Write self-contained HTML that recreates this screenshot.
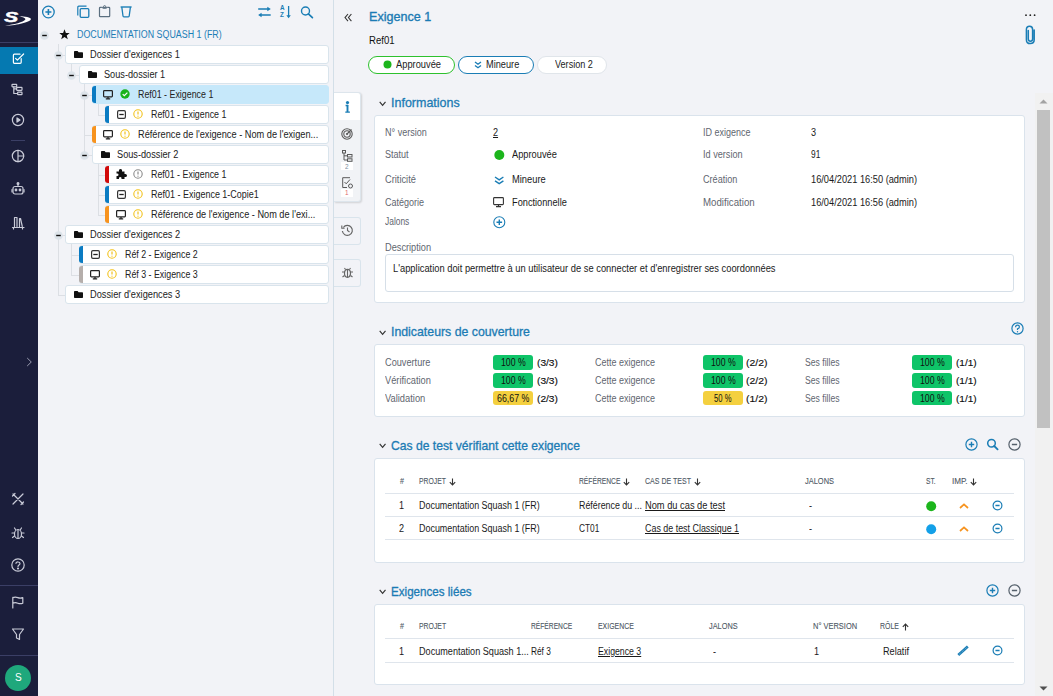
<!DOCTYPE html>
<html><head><meta charset="utf-8">
<style>
*{margin:0;padding:0;box-sizing:border-box}
html,body{width:1053px;height:696px;overflow:hidden;background:#f2f3f7;font-family:"Liberation Sans",sans-serif;color:#1a1a1a}
.a{position:absolute}
svg{position:absolute;overflow:visible}
.t{position:absolute;white-space:nowrap;line-height:14px;height:14px}
</style></head><body>

<div class="a" style="left:0;top:0;width:38px;height:696px;background:#1b1e3b"></div>
<div class="a" style="left:333px;top:0;width:1px;height:696px;background:#d3dfe8"></div>
<div class="a" style="left:0;top:42px;width:38px;height:1px;background:#3b3f66"></div>
<div class="a" style="left:0;top:47px;width:38px;height:27px;background:#0579b1"></div>
<div class="a" style="left:11px;top:140px;width:14px;height:1px;background:#3b3f66"></div>
<div class="a" style="left:0;top:585px;width:38px;height:1px;background:#3b3f66"></div>
<div class="a" style="left:0;top:655px;width:38px;height:1px;background:#3b3f66"></div>
<div class="a" style="left:5.3px;top:665.3px;width:26px;height:26px;border-radius:50%;background:#1fa87c;color:#fff;font-size:10px;line-height:26px;text-align:center">S</div>
<svg style="left:0px;top:0px;" width="38" height="40" viewBox="0 0 38 40"><text x="0" y="0" transform="translate(4.2 22.1) scale(1.45 1)" font-family="Liberation Sans" font-weight="bold" font-style="italic" font-size="14.4" fill="#fff" stroke="#fff" stroke-width="0.5">S</text><path d="M19 16.2 C25 16.3 31 17.3 31 19 C30.5 22 18 25.2 5 25.8 C14 24.6 23.5 22.2 25.3 19.6 C26.2 18.2 23 16.9 19 16.2 Z" fill="#fff"/></svg>
<svg style="left:10px;top:51px;" width="16" height="16" viewBox="0 0 16 16"><g fill="none" stroke="#ffffff" stroke-width="1.2" stroke-linecap="round" stroke-linejoin="round"><path d="M11.2 7.5 V11.3 Q11.2 12.3 10.2 12.3 H4.4 Q3.4 12.3 3.4 11.3 V4.2 Q3.4 3.2 4.4 3.2 H10" /><path d="M5.6 7.4 L7.4 9.2 L13.6 3"/></g></svg>
<svg style="left:10.2px;top:81px;" width="16" height="16" viewBox="0 0 16 16"><g fill="none" stroke="#c9cbd8" stroke-width="1.2" stroke-linecap="round" stroke-linejoin="round"><rect x="2" y="3.3" width="4.7" height="2.5" rx="0.5"/><rect x="6.6" y="6.3" width="5.4" height="3" rx="0.5"/><rect x="7.6" y="11.2" width="4.4" height="2.5" rx="0.5"/><path d="M3.8 5.8 V12.5 H7.6 M3.8 7.8 H6.6"/></g></svg>
<svg style="left:9.8px;top:112px;" width="16" height="16" viewBox="0 0 16 16"><g fill="none" stroke="#c9cbd8" stroke-width="1.2" stroke-linecap="round" stroke-linejoin="round"><circle cx="8" cy="8" r="5.6"/><path d="M7 5.9 L10 8 L7 10.1Z" fill="#c9cbd8"/></g></svg>
<svg style="left:10.2px;top:148px;" width="16" height="16" viewBox="0 0 16 16"><g fill="none" stroke="#c9cbd8" stroke-width="1.2" stroke-linecap="round" stroke-linejoin="round"><circle cx="8" cy="8" r="5.7"/><path d="M8 2.3 V13.7 M8 8 H13.7"/></g></svg>
<svg style="left:10.2px;top:181px;" width="16" height="16" viewBox="0 0 16 16"><g fill="none" stroke="#c9cbd8" stroke-width="1.2" stroke-linecap="round" stroke-linejoin="round"><rect x="3" y="5.5" width="10" height="7.5" rx="2"/><path d="M8 5.5 V3"/><circle cx="8" cy="2.5" r="0.9" fill="#c9cbd8"/><circle cx="6" cy="9" r="0.8" fill="#c9cbd8"/><circle cx="10" cy="9" r="0.8" fill="#c9cbd8"/><path d="M2 8.5 V11 M14 8.5 V11"/></g></svg>
<svg style="left:10.2px;top:214.5px;" width="16" height="16" viewBox="0 0 16 16"><g fill="none" stroke="#c9cbd8" stroke-width="1.2" stroke-linecap="round" stroke-linejoin="round"><path d="M4.5 2.5 V11.5 M7 2.5 V11.5 M4.5 2.5 H7 M9.5 3.5 V11.5 M9.5 3.5 H10.5 L12.3 11.5 M2.5 12.5 H14 M3.5 12.5 V14 M12.5 12.5 V14"/></g></svg>
<svg style="left:26.2px;top:356.5px;" width="8" height="11" viewBox="0 0 8 11"><path d="M1.2 1 L5.3 5 L1.2 9" fill="none" stroke="#9a9cb0" stroke-width="1"/></svg>
<svg style="left:10.2px;top:490.5px;" width="16" height="16" viewBox="0 0 16 16"><g fill="none" stroke="#c9cbd8" stroke-width="1.2" stroke-linecap="round" stroke-linejoin="round"><path d="M3 3 L13 13 M13 3 L3 13 M2.5 5 L5 2.5 M11 13.5 L13.5 11"/></g></svg>
<svg style="left:10.2px;top:524.5px;" width="16" height="16" viewBox="0 0 16 16"><g fill="none" stroke="#c9cbd8" stroke-width="1.2" stroke-linecap="round" stroke-linejoin="round"><ellipse cx="8" cy="9" rx="3.5" ry="4.5"/><path d="M5.5 4.5 L4.5 3 M10.5 4.5 L11.5 3 M4.5 8 H2 M11.5 8 H14 M4.5 11 L2.5 12.5 M11.5 11 L13.5 12.5 M8 5 V13"/></g></svg>
<svg style="left:10.2px;top:556.5px;" width="16" height="16" viewBox="0 0 16 16"><g fill="none" stroke="#c9cbd8" stroke-width="1.2" stroke-linecap="round" stroke-linejoin="round"><circle cx="8" cy="8" r="6.2"/><path d="M6 6.3 C6 4.5 10 4.5 10 6.5 C10 8 8 8 8 9.5"/><circle cx="8" cy="11.5" r="0.5" fill="#c9cbd8"/></g></svg>
<svg style="left:10.2px;top:593.5px;" width="16" height="16" viewBox="0 0 16 16"><g fill="none" stroke="#c9cbd8" stroke-width="1.2" stroke-linecap="round" stroke-linejoin="round"><path d="M2.8 14 V3.4 M2.8 3.6 Q5.3 2.6 7.8 3.6 Q10.3 4.6 12.8 3.6 V9.2 Q10.3 10.2 7.8 9.2 Q5.3 8.2 2.8 9.2"/></g></svg>
<svg style="left:10.2px;top:625.5px;" width="16" height="16" viewBox="0 0 16 16"><g fill="none" stroke="#c9cbd8" stroke-width="1.2" stroke-linecap="round" stroke-linejoin="round"><path d="M2.5 3 H13.5 L9.5 8.5 V13.5 L6.5 12 V8.5Z"/></g></svg>
<svg style="left:41px;top:5px;" width="15" height="15" viewBox="0 0 15 15"><circle cx="7.4" cy="7" r="5.8" fill="none" stroke="#1a7db5" stroke-width="1.3"/><path d="M7.4 4 V10 M4.4 7 H10.4" stroke="#1a7db5" stroke-width="1.6"/></svg>
<svg style="left:76px;top:5px;" width="15" height="14" viewBox="0 0 15 14"><path d="M1.8 10.5 V2.2 Q1.8 1.2 2.8 1.2 H10.5" fill="none" stroke="#1a7db5" stroke-width="1.2"/><rect x="4.2" y="3.7" width="8.6" height="8.6" rx="1" fill="none" stroke="#1a7db5" stroke-width="1.3"/></svg>
<svg style="left:98px;top:5px;" width="14" height="14" viewBox="0 0 14 14"><path d="M3.8 2.3 H2.3 Q1.5 2.3 1.5 3.1 V10.9 Q1.5 11.7 2.3 11.7 H10.9 Q11.7 11.7 11.7 10.9 V3.1 Q11.7 2.3 10.9 2.3 H9.4" fill="none" stroke="#5b6f80" stroke-width="1.2"/><path d="M3.8 2.3 H9.4 L8.4 3.3 H4.8Z" fill="#5b6f80" stroke="#5b6f80" stroke-width="0.8"/><circle cx="6.6" cy="1.7" r="1.1" fill="none" stroke="#5b6f80" stroke-width="1"/></svg>
<svg style="left:120px;top:5px;" width="13" height="14" viewBox="0 0 13 14"><path d="M0.6 2 H11.6" stroke="#1a7db5" stroke-width="1.4"/><path d="M1.8 2.2 L3 11 Q3.1 11.8 3.9 11.8 H8.3 Q9.1 11.8 9.2 11 L10.4 2.2" fill="none" stroke="#1a7db5" stroke-width="1.3" stroke-linejoin="round"/></svg>
<svg style="left:257px;top:5px;" width="16" height="14" viewBox="0 0 16 14"><path d="M1.2 4 H11 M3 10 H13.7" fill="none" stroke="#1a7db5" stroke-width="1.5"/><path d="M10.3 1.8 L13.8 4 L10.3 6.2Z M4.6 7.8 L1.1 10 L4.6 12.2Z" fill="#1a7db5"/></svg>
<svg style="left:278px;top:4px;" width="15" height="16" viewBox="0 0 15 16"><text x="2.1" y="6.2" font-family="Liberation Sans" font-weight="bold" font-size="6.3" fill="#1a7db5">A</text><text x="2.1" y="13" font-family="Liberation Sans" font-weight="bold" font-size="6.3" fill="#1a7db5">Z</text><path d="M10.6 2 V12" fill="none" stroke="#1a7db5" stroke-width="1.3"/><path d="M8.4 11.2 L10.6 14.3 L12.8 11.2Z" fill="#1a7db5"/></svg>
<svg style="left:299px;top:4px;" width="15" height="15" viewBox="0 0 15 15"><circle cx="6.5" cy="7" r="4" fill="none" stroke="#1a7db5" stroke-width="1.4"/><path d="M9.4 9.9 L13.4 13.6" stroke="#1a7db5" stroke-width="1.7" stroke-linecap="round"/></svg>
<div class="a" style="left:57.5px;top:44px;width:1px;height:251px;background:#dcdfe4"></div>
<div class="a" style="left:70.8px;top:64px;width:1px;height:11px;background:#dcdfe4"></div>
<div class="a" style="left:84.2px;top:84px;width:1px;height:71px;background:#dcdfe4"></div>
<div class="a" style="left:97.5px;top:104px;width:1px;height:11px;background:#dcdfe4"></div>
<div class="a" style="left:97.5px;top:164px;width:1px;height:51px;background:#dcdfe4"></div>
<div class="a" style="left:70.8px;top:244px;width:1px;height:31px;background:#dcdfe4"></div>
<div class="a" style="left:58px;top:54.5px;width:7px;height:1px;background:#dcdfe4"></div>
<div class="a" style="left:65px;top:45px;width:263.5px;height:19px;background:#ffffff;border:1px solid #d9e4ec;border-radius:3px"></div>
<svg style="left:73.5px;top:50.7px;" width="10" height="8" viewBox="0 0 10 8"><path d="M0 0.8 Q0 0 0.8 0 H3.6 L4.6 1.2 H8.3 Q9 1.2 9 1.9 V6.3 Q9 7 8.3 7 H0.7 Q0 7 0 6.3Z" fill="#111"/></svg>
<div class="t" style="left:90px;top:47.90px;font-size:10px;color:#222;font-weight:normal;transform:scaleX(0.9209);transform-origin:0 50%;">Dossier d'exigences 1</div>
<div class="a" style="left:71.3px;top:74.5px;width:7.700000000000003px;height:1px;background:#dcdfe4"></div>
<div class="a" style="left:79px;top:65px;width:249.5px;height:19px;background:#ffffff;border:1px solid #d9e4ec;border-radius:3px"></div>
<svg style="left:87.5px;top:70.7px;" width="10" height="8" viewBox="0 0 10 8"><path d="M0 0.8 Q0 0 0.8 0 H3.6 L4.6 1.2 H8.3 Q9 1.2 9 1.9 V6.3 Q9 7 8.3 7 H0.7 Q0 7 0 6.3Z" fill="#111"/></svg>
<div class="t" style="left:104px;top:67.90px;font-size:10px;color:#222;font-weight:normal;transform:scaleX(0.9176);transform-origin:0 50%;">Sous-dossier 1</div>
<div class="a" style="left:84.7px;top:94.5px;width:7.299999999999997px;height:1px;background:#dcdfe4"></div>
<div class="a" style="left:92px;top:85px;width:236.5px;height:19px;background:#c6e8fa;border:1px solid #c6e8fa;border-radius:3px"></div>
<div class="a" style="left:92px;top:86px;width:4px;height:17px;background:#0a7bc2;border-radius:3px 0 0 3px"></div>
<svg style="left:103px;top:89.8px;" width="10" height="10" viewBox="0 0 10 10"><rect x="0.6" y="0.6" width="8.8" height="6.3" rx="0.8" fill="none" stroke="#222" stroke-width="1.2"/><path d="M5 7 V8.6 M2.8 8.9 H7.2" stroke="#222" stroke-width="1.3"/></svg>
<svg style="left:120.4px;top:89.4px;" width="10" height="10" viewBox="0 0 10 10"><circle cx="5" cy="5" r="4.7" fill="#1ab31a"/><path d="M2.7 5.1 L4.3 6.7 L7.4 3.6" fill="none" stroke="#fff" stroke-width="1.2"/></svg>
<div class="t" style="left:138px;top:87.90px;font-size:10px;color:#222;font-weight:normal;transform:scaleX(0.8854);transform-origin:0 50%;">Ref01 - Exigence 1</div>
<div class="a" style="left:98px;top:114.5px;width:7px;height:1px;background:#dcdfe4"></div>
<div class="a" style="left:105px;top:105px;width:223.5px;height:19px;background:#ffffff;border:1px solid #d9e4ec;border-radius:3px"></div>
<div class="a" style="left:105px;top:106px;width:4px;height:17px;background:#0a7bc2;border-radius:3px 0 0 3px"></div>
<svg style="left:117px;top:109.8px;" width="9" height="9" viewBox="0 0 9 9"><rect x="0.6" y="0.6" width="7.8" height="7.8" rx="1.3" fill="none" stroke="#333" stroke-width="1.2"/><path d="M2.3 4.5 H6.7" stroke="#222" stroke-width="1.3"/></svg>
<svg style="left:133.4px;top:109.4px;" width="10" height="10" viewBox="0 0 10 10"><circle cx="5" cy="5" r="4.2" fill="none" stroke="#f2c21b" stroke-width="1.1"/><path d="M5 2.6 V5.6" stroke="#f2c21b" stroke-width="1.2"/><circle cx="5" cy="7.2" r="0.6" fill="#f2c21b"/></svg>
<div class="t" style="left:151px;top:107.90px;font-size:10px;color:#222;font-weight:normal;transform:scaleX(0.8866);transform-origin:0 50%;">Ref01 - Exigence 1</div>
<div class="a" style="left:84.7px;top:134.5px;width:7.299999999999997px;height:1px;background:#dcdfe4"></div>
<div class="a" style="left:92px;top:125px;width:236.5px;height:19px;background:#ffffff;border:1px solid #d9e4ec;border-radius:3px"></div>
<div class="a" style="left:92px;top:126px;width:4px;height:17px;background:#f7931e;border-radius:3px 0 0 3px"></div>
<svg style="left:103px;top:129.8px;" width="10" height="10" viewBox="0 0 10 10"><rect x="0.6" y="0.6" width="8.8" height="6.3" rx="0.8" fill="none" stroke="#222" stroke-width="1.2"/><path d="M5 7 V8.6 M2.8 8.9 H7.2" stroke="#222" stroke-width="1.3"/></svg>
<svg style="left:120.4px;top:129.4px;" width="10" height="10" viewBox="0 0 10 10"><circle cx="5" cy="5" r="4.2" fill="none" stroke="#f2c21b" stroke-width="1.1"/><path d="M5 2.6 V5.6" stroke="#f2c21b" stroke-width="1.2"/><circle cx="5" cy="7.2" r="0.6" fill="#f2c21b"/></svg>
<div class="t" style="left:138px;top:127.90px;font-size:10px;color:#222;font-weight:normal;transform:scaleX(0.9214);transform-origin:0 50%;">Référence de l'exigence - Nom de l'exigen...</div>
<div class="a" style="left:84.7px;top:154.5px;width:7.299999999999997px;height:1px;background:#dcdfe4"></div>
<div class="a" style="left:92px;top:145px;width:236.5px;height:19px;background:#ffffff;border:1px solid #d9e4ec;border-radius:3px"></div>
<svg style="left:100.5px;top:150.7px;" width="10" height="8" viewBox="0 0 10 8"><path d="M0 0.8 Q0 0 0.8 0 H3.6 L4.6 1.2 H8.3 Q9 1.2 9 1.9 V6.3 Q9 7 8.3 7 H0.7 Q0 7 0 6.3Z" fill="#111"/></svg>
<div class="t" style="left:117px;top:147.90px;font-size:10px;color:#222;font-weight:normal;transform:scaleX(0.9191);transform-origin:0 50%;">Sous-dossier 2</div>
<div class="a" style="left:98px;top:174.5px;width:7px;height:1px;background:#dcdfe4"></div>
<div class="a" style="left:105px;top:165px;width:223.5px;height:19px;background:#ffffff;border:1px solid #d9e4ec;border-radius:3px"></div>
<div class="a" style="left:105px;top:166px;width:4px;height:17px;background:#d10a0a;border-radius:3px 0 0 3px"></div>
<svg style="left:116px;top:169.4px;" width="11" height="10" viewBox="0 0 11 10"><path d="M0.5 2.5 H3 Q2.5 0 4.5 0 Q6.5 0 6 2.5 H8.5 V5 Q11 4.5 11 6.5 Q11 8.5 8.5 8 V10 H5.5 Q6 8 4.2 8 Q2.5 8 3 10 H0.5 V7 Q2.5 7.5 2.5 5.7 Q2.5 4 0.5 4.5Z" fill="#111"/></svg>
<svg style="left:133.4px;top:169.4px;" width="10" height="10" viewBox="0 0 10 10"><circle cx="5" cy="5" r="4.2" fill="none" stroke="#8a8a8a" stroke-width="1.1"/><path d="M5 2.6 V5.6" stroke="#8a8a8a" stroke-width="1.2"/><circle cx="5" cy="7.2" r="0.6" fill="#8a8a8a"/></svg>
<div class="t" style="left:151px;top:167.90px;font-size:10px;color:#222;font-weight:normal;transform:scaleX(0.8866);transform-origin:0 50%;">Ref01 - Exigence 1</div>
<div class="a" style="left:98px;top:194.5px;width:7px;height:1px;background:#dcdfe4"></div>
<div class="a" style="left:105px;top:185px;width:223.5px;height:19px;background:#ffffff;border:1px solid #d9e4ec;border-radius:3px"></div>
<div class="a" style="left:105px;top:186px;width:4px;height:17px;background:#0a7bc2;border-radius:3px 0 0 3px"></div>
<svg style="left:117px;top:189.8px;" width="9" height="9" viewBox="0 0 9 9"><rect x="0.6" y="0.6" width="7.8" height="7.8" rx="1.3" fill="none" stroke="#333" stroke-width="1.2"/><path d="M2.3 4.5 H6.7" stroke="#222" stroke-width="1.3"/></svg>
<svg style="left:133.4px;top:189.4px;" width="10" height="10" viewBox="0 0 10 10"><circle cx="5" cy="5" r="4.2" fill="none" stroke="#f2c21b" stroke-width="1.1"/><path d="M5 2.6 V5.6" stroke="#f2c21b" stroke-width="1.2"/><circle cx="5" cy="7.2" r="0.6" fill="#f2c21b"/></svg>
<div class="t" style="left:151px;top:187.90px;font-size:10px;color:#222;font-weight:normal;transform:scaleX(0.8979);transform-origin:0 50%;">Ref01 - Exigence 1-Copie1</div>
<div class="a" style="left:98px;top:214.5px;width:7px;height:1px;background:#dcdfe4"></div>
<div class="a" style="left:105px;top:205px;width:223.5px;height:19px;background:#ffffff;border:1px solid #d9e4ec;border-radius:3px"></div>
<div class="a" style="left:105px;top:206px;width:4px;height:17px;background:#f7931e;border-radius:3px 0 0 3px"></div>
<svg style="left:116px;top:209.8px;" width="10" height="10" viewBox="0 0 10 10"><rect x="0.6" y="0.6" width="8.8" height="6.3" rx="0.8" fill="none" stroke="#222" stroke-width="1.2"/><path d="M5 7 V8.6 M2.8 8.9 H7.2" stroke="#222" stroke-width="1.3"/></svg>
<svg style="left:133.4px;top:209.4px;" width="10" height="10" viewBox="0 0 10 10"><circle cx="5" cy="5" r="4.2" fill="none" stroke="#f2c21b" stroke-width="1.1"/><path d="M5 2.6 V5.6" stroke="#f2c21b" stroke-width="1.2"/><circle cx="5" cy="7.2" r="0.6" fill="#f2c21b"/></svg>
<div class="t" style="left:151px;top:207.90px;font-size:10px;color:#222;font-weight:normal;transform:scaleX(0.9184);transform-origin:0 50%;">Référence de l'exigence - Nom de l'exi...</div>
<div class="a" style="left:58px;top:234.5px;width:7px;height:1px;background:#dcdfe4"></div>
<div class="a" style="left:65px;top:225px;width:263.5px;height:19px;background:#ffffff;border:1px solid #d9e4ec;border-radius:3px"></div>
<svg style="left:73.5px;top:230.7px;" width="10" height="8" viewBox="0 0 10 8"><path d="M0 0.8 Q0 0 0.8 0 H3.6 L4.6 1.2 H8.3 Q9 1.2 9 1.9 V6.3 Q9 7 8.3 7 H0.7 Q0 7 0 6.3Z" fill="#111"/></svg>
<div class="t" style="left:90px;top:227.90px;font-size:10px;color:#222;font-weight:normal;transform:scaleX(0.9250);transform-origin:0 50%;">Dossier d'exigences 2</div>
<div class="a" style="left:71.3px;top:254.5px;width:7.700000000000003px;height:1px;background:#dcdfe4"></div>
<div class="a" style="left:79px;top:245px;width:249.5px;height:19px;background:#ffffff;border:1px solid #d9e4ec;border-radius:3px"></div>
<div class="a" style="left:79px;top:246px;width:4px;height:17px;background:#0a7bc2;border-radius:3px 0 0 3px"></div>
<svg style="left:91px;top:249.8px;" width="9" height="9" viewBox="0 0 9 9"><rect x="0.6" y="0.6" width="7.8" height="7.8" rx="1.3" fill="none" stroke="#333" stroke-width="1.2"/><path d="M2.3 4.5 H6.7" stroke="#222" stroke-width="1.3"/></svg>
<svg style="left:107.4px;top:249.4px;" width="10" height="10" viewBox="0 0 10 10"><circle cx="5" cy="5" r="4.2" fill="none" stroke="#f2c21b" stroke-width="1.1"/><path d="M5 2.6 V5.6" stroke="#f2c21b" stroke-width="1.2"/><circle cx="5" cy="7.2" r="0.6" fill="#f2c21b"/></svg>
<div class="t" style="left:125px;top:247.90px;font-size:10px;color:#222;font-weight:normal;transform:scaleX(0.8838);transform-origin:0 50%;">Réf 2 - Exigence 2</div>
<div class="a" style="left:71.3px;top:274.5px;width:7.700000000000003px;height:1px;background:#dcdfe4"></div>
<div class="a" style="left:79px;top:265px;width:249.5px;height:19px;background:#ffffff;border:1px solid #d9e4ec;border-radius:3px"></div>
<div class="a" style="left:79px;top:266px;width:4px;height:17px;background:#b5aeab;border-radius:3px 0 0 3px"></div>
<svg style="left:90px;top:269.8px;" width="10" height="10" viewBox="0 0 10 10"><rect x="0.6" y="0.6" width="8.8" height="6.3" rx="0.8" fill="none" stroke="#222" stroke-width="1.2"/><path d="M5 7 V8.6 M2.8 8.9 H7.2" stroke="#222" stroke-width="1.3"/></svg>
<svg style="left:107.4px;top:269.4px;" width="10" height="10" viewBox="0 0 10 10"><circle cx="5" cy="5" r="4.2" fill="none" stroke="#f2c21b" stroke-width="1.1"/><path d="M5 2.6 V5.6" stroke="#f2c21b" stroke-width="1.2"/><circle cx="5" cy="7.2" r="0.6" fill="#f2c21b"/></svg>
<div class="t" style="left:125px;top:267.90px;font-size:10px;color:#222;font-weight:normal;transform:scaleX(0.8838);transform-origin:0 50%;">Réf 3 - Exigence 3</div>
<div class="a" style="left:58px;top:294.5px;width:7px;height:1px;background:#dcdfe4"></div>
<div class="a" style="left:65px;top:285px;width:263.5px;height:19px;background:#ffffff;border:1px solid #d9e4ec;border-radius:3px"></div>
<svg style="left:73.5px;top:290.7px;" width="10" height="8" viewBox="0 0 10 8"><path d="M0 0.8 Q0 0 0.8 0 H3.6 L4.6 1.2 H8.3 Q9 1.2 9 1.9 V6.3 Q9 7 8.3 7 H0.7 Q0 7 0 6.3Z" fill="#111"/></svg>
<div class="t" style="left:90px;top:287.90px;font-size:10px;color:#222;font-weight:normal;transform:scaleX(0.9250);transform-origin:0 50%;">Dossier d'exigences 3</div>
<svg style="left:40.3px;top:30.5px;" width="9" height="9" viewBox="0 0 9 9"><circle cx="4.5" cy="4.5" r="4.3" fill="#dce3e9"/><path d="M2.2 4.5 H6.8" stroke="#111" stroke-width="1.4"/></svg>
<svg style="left:53.5px;top:50.5px;" width="9" height="9" viewBox="0 0 9 9"><circle cx="4.5" cy="4.5" r="4.3" fill="#dce3e9"/><path d="M2.2 4.5 H6.8" stroke="#111" stroke-width="1.4"/></svg>
<svg style="left:66.8px;top:70.5px;" width="9" height="9" viewBox="0 0 9 9"><circle cx="4.5" cy="4.5" r="4.3" fill="#dce3e9"/><path d="M2.2 4.5 H6.8" stroke="#111" stroke-width="1.4"/></svg>
<svg style="left:80.2px;top:90.5px;" width="9" height="9" viewBox="0 0 9 9"><circle cx="4.5" cy="4.5" r="4.3" fill="#dce3e9"/><path d="M2.2 4.5 H6.8" stroke="#111" stroke-width="1.4"/></svg>
<svg style="left:80.2px;top:150.5px;" width="9" height="9" viewBox="0 0 9 9"><circle cx="4.5" cy="4.5" r="4.3" fill="#dce3e9"/><path d="M2.2 4.5 H6.8" stroke="#111" stroke-width="1.4"/></svg>
<svg style="left:53.5px;top:230.5px;" width="9" height="9" viewBox="0 0 9 9"><circle cx="4.5" cy="4.5" r="4.3" fill="#dce3e9"/><path d="M2.2 4.5 H6.8" stroke="#111" stroke-width="1.4"/></svg>
<svg style="left:58.5px;top:29.2px;" width="11" height="11" viewBox="0 0 11 11"><path d="M5.5 0.3 L6.9 3.9 L10.7 4.1 L7.7 6.5 L8.8 10.3 L5.5 8.1 L2.2 10.3 L3.3 6.5 L0.3 4.1 L4.1 3.9Z" fill="#111"/></svg>
<div class="t" style="left:77px;top:28.00px;font-size:10px;color:#1c7db6;font-weight:normal;transform:scaleX(0.8879);transform-origin:0 50%;">DOCUMENTATION SQUASH 1 (FR)</div>
<svg style="left:343.5px;top:12.5px;" width="9" height="10" viewBox="0 0 9 10"><path d="M4 1 L1 4.6 L4 8.2 M7.4 1 L4.4 4.6 L7.4 8.2" fill="none" stroke="#333" stroke-width="1.05"/></svg>
<div class="t" style="left:369px;top:9.90px;font-size:12.7px;color:#1b7bb4;font-weight:normal;transform:scaleX(0.9915);transform-origin:0 50%;-webkit-text-stroke:0.35px #1b7bb4">Exigence 1</div>
<div class="t" style="left:369px;top:32.70px;font-size:10.5px;color:#111;font-weight:normal;transform:scaleX(0.9137);transform-origin:0 50%;">Ref01</div>
<div class="a" style="left:368px;top:56px;width:87px;height:18px;border:1.5px solid #2ec12e;border-radius:9px;background:#fff"></div>
<svg style="left:383px;top:59.8px;" width="9" height="9" viewBox="0 0 9 9"><circle cx="4.5" cy="4.5" r="4" fill="#1cb51c"/></svg>
<div class="t" style="left:395.7px;top:58.10px;font-size:10px;color:#222;font-weight:normal;transform:scaleX(0.9304);transform-origin:0 50%;">Approuvée</div>
<div class="a" style="left:458px;top:56px;width:76px;height:18px;border:1.5px solid #1a7db5;border-radius:9px;background:#fff"></div>
<svg style="left:473.5px;top:60.7px;" width="8" height="8" viewBox="0 0 8 8"><path d="M1 1 L4 3.2 L7 1 M1 4.5 L4 6.7 L7 4.5" fill="none" stroke="#1a7db5" stroke-width="1.4"/></svg>
<div class="t" style="left:485.7px;top:58.10px;font-size:10px;color:#222;font-weight:normal;transform:scaleX(0.9218);transform-origin:0 50%;">Mineure</div>
<div class="a" style="left:537px;top:56px;width:70px;height:18px;border:1.5px solid #e0e5ea;border-radius:9px;background:#fff"></div>
<div class="t" style="left:554.9px;top:58.10px;font-size:10px;color:#222;font-weight:normal;transform:scaleX(0.9090);transform-origin:0 50%;">Version 2</div>
<svg style="left:1024px;top:13px;" width="12" height="4" viewBox="0 0 12 4"><circle cx="2" cy="2.2" r="0.9" fill="#222"/><circle cx="6.3" cy="2.2" r="0.9" fill="#222"/><circle cx="10.6" cy="2.2" r="0.9" fill="#222"/></svg>
<svg style="left:1023px;top:24px;" width="14" height="21" viewBox="0 0 14 21"><path d="M11.2 6 V15.8 Q11.2 19.6 7.2 19.6 Q3.4 19.6 3.4 15.8 V5.6 Q3.4 2.3 6.6 2.3 Q9.6 2.3 9.6 5.6 V15 Q9.6 17.2 7.4 17.2 Q5.3 17.2 5.3 15 V6.5" fill="none" stroke="#1a7db5" stroke-width="1.5" stroke-linecap="round"/></svg>
<div class="a" style="left:334px;top:92px;width:27px;height:109.5px;background:#f1f3f6;border-radius:0 3px 3px 0;box-shadow:1px 1px 2px rgba(0,0,0,0.14);border:1px solid #dde5ec;border-left:none"></div>
<div class="a" style="left:334px;top:93px;width:26px;height:27px;background:#fff;border-radius:0 3px 0 0"></div>
<svg style="left:343px;top:99px;" width="9" height="15" viewBox="0 0 9 15"><circle cx="4.5" cy="3.6" r="1.6" fill="#1a7db5"/><path d="M4.5 6 V13" fill="none" stroke="#1a7db5" stroke-width="1.9"/><path d="M2.6 6.5 H5.2 M2.3 13.2 H6.9" fill="none" stroke="#1a7db5" stroke-width="1.3"/></svg>
<svg style="left:341px;top:128px;" width="12" height="12" viewBox="0 0 12 12"><circle cx="6" cy="6" r="5.2" fill="none" stroke="#5a5a5a" stroke-width="1.1"/><circle cx="6" cy="6" r="3.2" fill="none" stroke="#5a5a5a" stroke-width="1.1"/><circle cx="6" cy="6" r="1.1" fill="#5a5a5a"/><path d="M6 6 L10.5 1.5" stroke="#5a5a5a" stroke-width="1.1"/></svg>
<svg style="left:342px;top:150px;" width="11" height="12" viewBox="0 0 11 12"><rect x="0.5" y="0.5" width="3" height="2.5" fill="none" stroke="#5a5a5a" stroke-width="1"/><rect x="5.5" y="4.5" width="4.5" height="2.5" fill="none" stroke="#5a5a5a" stroke-width="1"/><rect x="5.5" y="8.8" width="4.5" height="2.5" fill="none" stroke="#5a5a5a" stroke-width="1"/><path d="M2 3 V10 H5.5 M2 5.8 H5.5" fill="none" stroke="#5a5a5a" stroke-width="1"/></svg>
<div class="a" style="left:341px;top:162px;width:12px;height:8px;background:#fff"></div>
<div class="t" style="left:344.5px;top:159.50px;font-size:7px;color:#7c8ea0;font-weight:normal;transform:scaleX(0.9100);transform-origin:0 50%;">2</div>
<svg style="left:342px;top:177px;" width="12" height="12" viewBox="0 0 12 12"><path d="M8 0.7 H0.7 V10.5 H5" fill="none" stroke="#5a5a5a" stroke-width="1"/><path d="M2.5 5 L4.2 6.8 L8 2.5" fill="none" stroke="#5a5a5a" stroke-width="1"/><circle cx="8.5" cy="9" r="2" fill="none" stroke="#5a5a5a" stroke-width="1"/></svg>
<div class="a" style="left:341px;top:189px;width:12px;height:8px;background:#fff"></div>
<div class="t" style="left:345px;top:186.00px;font-size:7px;color:#e06c6c;font-weight:normal;transform:scaleX(0.9100);transform-origin:0 50%;">1</div>
<div class="a" style="left:334px;top:216.5px;width:27px;height:28px;background:#f2f3f7;border-radius:0 3px 3px 0;border:1px solid #d9e4ec;border-left:none"></div>
<svg style="left:341px;top:224px;" width="13" height="12" viewBox="0 0 13 12"><path d="M2.3 3.5 A5 5 0 1 1 1.4 7" fill="none" stroke="#666" stroke-width="1.2"/><path d="M0.8 1.5 V4.3 H3.6" fill="none" stroke="#666" stroke-width="1.1"/><path d="M6.5 3.5 V6.5 L8.5 8" fill="none" stroke="#666" stroke-width="1.1"/></svg>
<div class="a" style="left:334px;top:258.5px;width:27px;height:28px;background:#f2f3f7;border-radius:0 3px 3px 0;border:1px solid #d9e4ec;border-left:none"></div>
<svg style="left:341px;top:266px;" width="13" height="13" viewBox="0 0 13 13"><ellipse cx="6.5" cy="7.3" rx="3" ry="4" fill="none" stroke="#666" stroke-width="1.2"/><path d="M4.5 3.5 L3.5 2 M8.5 3.5 L9.5 2 M3.5 6 H1 M9.5 6 H12 M3.5 9.5 L1.5 11 M9.5 9.5 L11.5 11 M6.5 4 V11.3" fill="none" stroke="#666" stroke-width="1.1"/></svg>
<div class="a" style="left:1035px;top:93px;width:18px;height:603px;background:#f1f1f1"></div>
<div class="a" style="left:1037px;top:110px;width:13px;height:318px;background:#c1c1c1"></div>
<svg style="left:1039px;top:99px;" width="9" height="5" viewBox="0 0 9 5"><path d="M0.5 4.5 L4.5 0.5 L8.5 4.5Z" fill="#a3a3a3"/></svg>
<svg style="left:1039px;top:686px;" width="9" height="5" viewBox="0 0 9 5"><path d="M0.5 0.5 L4.5 4.5 L8.5 0.5Z" fill="#505050"/></svg>
<svg style="left:378.5px;top:100.9px;" width="8" height="6" viewBox="0 0 8 6"><path d="M0.7 0.8 L3.6 4.3 L6.5 0.8" fill="none" stroke="#333" stroke-width="1.15"/></svg>
<div class="t" style="left:391.4px;top:96.00px;font-size:12.6px;color:#1b7bb4;font-weight:normal;transform:scaleX(0.9924);transform-origin:0 50%;-webkit-text-stroke:0.3px #1b7bb4">Informations</div>
<div class="a" style="left:374px;top:115.3px;width:651px;height:188.2px;background:#fff;border:1px solid #dae3ec;border-radius:3px"></div>
<div class="t" style="left:385.3px;top:125.90px;font-size:10px;color:#5f6670;font-weight:normal;transform:scaleX(0.9041);transform-origin:0 50%;">N° version</div>
<div class="t" style="left:385.3px;top:148.00px;font-size:10px;color:#5f6670;font-weight:normal;transform:scaleX(0.9033);transform-origin:0 50%;">Statut</div>
<div class="t" style="left:385.3px;top:172.80px;font-size:10px;color:#5f6670;font-weight:normal;transform:scaleX(0.9270);transform-origin:0 50%;">Criticité</div>
<div class="t" style="left:385.3px;top:195.50px;font-size:10px;color:#5f6670;font-weight:normal;transform:scaleX(0.9018);transform-origin:0 50%;">Catégorie</div>
<div class="t" style="left:385.3px;top:215.20px;font-size:10px;color:#5f6670;font-weight:normal;transform:scaleX(0.8407);transform-origin:0 50%;">Jalons</div>
<div class="t" style="left:493.2px;top:125.90px;font-size:10px;color:#1a1a1a;font-weight:normal;transform:scaleX(0.9100);transform-origin:0 50%;"><span style="text-decoration:underline">2</span></div>
<svg style="left:493.5px;top:150px;" width="11" height="11" viewBox="0 0 11 11"><circle cx="5.3" cy="5" r="5" fill="#1cb51c"/></svg>
<div class="t" style="left:511.7px;top:148.00px;font-size:10px;color:#1a1a1a;font-weight:normal;transform:scaleX(0.9283);transform-origin:0 50%;">Approuvée</div>
<svg style="left:493.5px;top:175.5px;" width="11" height="9" viewBox="0 0 11 9"><path d="M1 1 L5.2 3.8 L9.4 1 M1 4.8 L5.2 7.6 L9.4 4.8" fill="none" stroke="#1a7db5" stroke-width="1.4"/></svg>
<div class="t" style="left:511.7px;top:172.80px;font-size:10px;color:#1a1a1a;font-weight:normal;transform:scaleX(0.9329);transform-origin:0 50%;">Mineure</div>
<svg style="left:493.3px;top:196.5px;" width="11" height="11" viewBox="0 0 11 11"><rect x="0.6" y="0.6" width="9.8" height="7" rx="0.8" fill="none" stroke="#333" stroke-width="1.1"/><path d="M5.5 7.6 V9.4 M3 9.7 H8" stroke="#333" stroke-width="1.2"/></svg>
<div class="t" style="left:511.7px;top:195.50px;font-size:10px;color:#1a1a1a;font-weight:normal;transform:scaleX(0.9213);transform-origin:0 50%;">Fonctionnelle</div>
<svg style="left:492.5px;top:215.5px;" width="13" height="13" viewBox="0 0 13 13"><circle cx="6.3" cy="6.3" r="5.5" fill="none" stroke="#1a7db5" stroke-width="1.1"/><path d="M6.3 3.5 V9.1 M3.5 6.3 H9.1" stroke="#1a7db5" stroke-width="1.4"/></svg>
<div class="t" style="left:702.8px;top:125.90px;font-size:10px;color:#5f6670;font-weight:normal;transform:scaleX(0.8995);transform-origin:0 50%;">ID exigence</div>
<div class="t" style="left:810.7px;top:125.90px;font-size:10px;color:#1a1a1a;font-weight:normal;transform:scaleX(0.9100);transform-origin:0 50%;">3</div>
<div class="t" style="left:702.8px;top:148.00px;font-size:10px;color:#5f6670;font-weight:normal;transform:scaleX(0.9135);transform-origin:0 50%;">Id version</div>
<div class="t" style="left:810.7px;top:148.00px;font-size:10px;color:#1a1a1a;font-weight:normal;transform:scaleX(0.8362);transform-origin:0 50%;">91</div>
<div class="t" style="left:702.8px;top:172.80px;font-size:10px;color:#5f6670;font-weight:normal;transform:scaleX(0.9102);transform-origin:0 50%;">Création</div>
<div class="t" style="left:810.7px;top:172.80px;font-size:10px;color:#1a1a1a;font-weight:normal;transform:scaleX(0.9256);transform-origin:0 50%;">16/04/2021 16:50 (admin)</div>
<div class="t" style="left:702.8px;top:195.50px;font-size:10px;color:#5f6670;font-weight:normal;transform:scaleX(0.9690);transform-origin:0 50%;">Modification</div>
<div class="t" style="left:810.7px;top:195.50px;font-size:10px;color:#1a1a1a;font-weight:normal;transform:scaleX(0.9256);transform-origin:0 50%;">16/04/2021 16:56 (admin)</div>
<div class="t" style="left:385.3px;top:241.00px;font-size:10px;color:#5f6670;font-weight:normal;transform:scaleX(0.9217);transform-origin:0 50%;">Description</div>
<div class="a" style="left:385px;top:254px;width:629px;height:38px;background:#fff;border:1px solid #d6dfe8;border-radius:3px"></div>
<div class="t" style="left:392.8px;top:261.90px;font-size:10px;color:#1a1a1a;font-weight:normal;transform:scaleX(0.9339);transform-origin:0 50%;">L'application doit permettre à un utilisateur de se connecter et d'enregistrer ses coordonnées</div>
<svg style="left:378.5px;top:329.9px;" width="8" height="6" viewBox="0 0 8 6"><path d="M0.7 0.8 L3.6 4.3 L6.5 0.8" fill="none" stroke="#333" stroke-width="1.15"/></svg>
<div class="t" style="left:391.4px;top:325.00px;font-size:12.6px;color:#1b7bb4;font-weight:normal;transform:scaleX(0.9777);transform-origin:0 50%;-webkit-text-stroke:0.3px #1b7bb4">Indicateurs de couverture</div>
<svg style="left:1011px;top:322px;" width="13" height="13" viewBox="0 0 13 13"><circle cx="6.5" cy="6.5" r="5.6" fill="none" stroke="#1a7db5" stroke-width="1.2"/><path d="M4.6 5.2 Q4.6 3.2 6.5 3.2 Q8.4 3.2 8.4 5 Q8.4 6.3 6.5 6.8 V8" fill="none" stroke="#1a7db5" stroke-width="1.2"/><circle cx="6.5" cy="9.7" r="0.7" fill="#1a7db5"/></svg>
<div class="a" style="left:374px;top:343.5px;width:651px;height:73.0px;background:#fff;border:1px solid #dae3ec;border-radius:3px"></div>
<div class="t" style="left:385.2px;top:356.30px;font-size:10px;color:#5f6670;font-weight:normal;transform:scaleX(0.9178);transform-origin:0 50%;">Couverture</div>
<div class="a" style="left:492.8px;top:355.00px;width:40.2px;height:14.6px;background:#0ec468;border-radius:3px"></div>
<div class="t" style="left:500.5px;top:355.60px;font-size:10.2px;color:#111;font-weight:normal;transform:scaleX(0.8575);transform-origin:0 50%;">100 %</div>
<div class="t" style="left:536.9px;top:356.00px;font-size:9.5px;color:#111;font-weight:normal;transform:scaleX(1.0701);transform-origin:0 50%;-webkit-text-stroke:0.15px #111">(3/3)</div>
<div class="t" style="left:594.7px;top:356.30px;font-size:10px;color:#5f6670;font-weight:normal;transform:scaleX(0.9010);transform-origin:0 50%;">Cette exigence</div>
<div class="a" style="left:703.1px;top:355.00px;width:39.7px;height:14.6px;background:#0ec468;border-radius:3px"></div>
<div class="t" style="left:710.5500000000001px;top:355.60px;font-size:10.2px;color:#111;font-weight:normal;transform:scaleX(0.8575);transform-origin:0 50%;">100 %</div>
<div class="t" style="left:746.2px;top:356.00px;font-size:9.5px;color:#111;font-weight:normal;transform:scaleX(1.0957);transform-origin:0 50%;-webkit-text-stroke:0.15px #111">(2/2)</div>
<div class="t" style="left:804.5px;top:356.30px;font-size:10px;color:#5f6670;font-weight:normal;transform:scaleX(0.8622);transform-origin:0 50%;">Ses filles</div>
<div class="a" style="left:912.4px;top:355.00px;width:39.6px;height:14.6px;background:#0ec468;border-radius:3px"></div>
<div class="t" style="left:919.8px;top:355.60px;font-size:10.2px;color:#111;font-weight:normal;transform:scaleX(0.8575);transform-origin:0 50%;">100 %</div>
<div class="t" style="left:956.2px;top:356.00px;font-size:9.5px;color:#111;font-weight:normal;transform:scaleX(1.0598);transform-origin:0 50%;-webkit-text-stroke:0.15px #111">(1/1)</div>
<div class="t" style="left:385.2px;top:374.30px;font-size:10px;color:#5f6670;font-weight:normal;transform:scaleX(0.9279);transform-origin:0 50%;">Vérification</div>
<div class="a" style="left:492.8px;top:373.00px;width:40.2px;height:14.6px;background:#0ec468;border-radius:3px"></div>
<div class="t" style="left:500.5px;top:373.60px;font-size:10.2px;color:#111;font-weight:normal;transform:scaleX(0.8575);transform-origin:0 50%;">100 %</div>
<div class="t" style="left:536.9px;top:374.00px;font-size:9.5px;color:#111;font-weight:normal;transform:scaleX(1.0701);transform-origin:0 50%;-webkit-text-stroke:0.15px #111">(3/3)</div>
<div class="t" style="left:594.7px;top:374.30px;font-size:10px;color:#5f6670;font-weight:normal;transform:scaleX(0.9010);transform-origin:0 50%;">Cette exigence</div>
<div class="a" style="left:703.1px;top:373.00px;width:39.7px;height:14.6px;background:#0ec468;border-radius:3px"></div>
<div class="t" style="left:710.5500000000001px;top:373.60px;font-size:10.2px;color:#111;font-weight:normal;transform:scaleX(0.8575);transform-origin:0 50%;">100 %</div>
<div class="t" style="left:746.2px;top:374.00px;font-size:9.5px;color:#111;font-weight:normal;transform:scaleX(1.0957);transform-origin:0 50%;-webkit-text-stroke:0.15px #111">(2/2)</div>
<div class="t" style="left:804.5px;top:374.30px;font-size:10px;color:#5f6670;font-weight:normal;transform:scaleX(0.8622);transform-origin:0 50%;">Ses filles</div>
<div class="a" style="left:912.4px;top:373.00px;width:39.6px;height:14.6px;background:#0ec468;border-radius:3px"></div>
<div class="t" style="left:919.8px;top:373.60px;font-size:10.2px;color:#111;font-weight:normal;transform:scaleX(0.8575);transform-origin:0 50%;">100 %</div>
<div class="t" style="left:956.2px;top:374.00px;font-size:9.5px;color:#111;font-weight:normal;transform:scaleX(1.0598);transform-origin:0 50%;-webkit-text-stroke:0.15px #111">(1/1)</div>
<div class="t" style="left:385.2px;top:392.20px;font-size:10px;color:#5f6670;font-weight:normal;transform:scaleX(0.9334);transform-origin:0 50%;">Validation</div>
<div class="a" style="left:492.8px;top:390.90px;width:40.2px;height:14.6px;background:#f4d03f;border-radius:3px"></div>
<div class="t" style="left:496.65px;top:391.50px;font-size:10.2px;color:#111;font-weight:normal;transform:scaleX(0.8684);transform-origin:0 50%;">66,67 %</div>
<div class="t" style="left:536.9px;top:391.90px;font-size:9.5px;color:#111;font-weight:normal;transform:scaleX(1.0701);transform-origin:0 50%;-webkit-text-stroke:0.15px #111">(2/3)</div>
<div class="t" style="left:594.7px;top:392.20px;font-size:10px;color:#5f6670;font-weight:normal;transform:scaleX(0.9010);transform-origin:0 50%;">Cette exigence</div>
<div class="a" style="left:703.1px;top:390.90px;width:39.7px;height:14.6px;background:#f4d03f;border-radius:3px"></div>
<div class="t" style="left:714.2px;top:391.50px;font-size:10.2px;color:#111;font-weight:normal;transform:scaleX(0.7528);transform-origin:0 50%;">50 %</div>
<div class="t" style="left:746.2px;top:391.90px;font-size:9.5px;color:#111;font-weight:normal;transform:scaleX(1.0957);transform-origin:0 50%;-webkit-text-stroke:0.15px #111">(1/2)</div>
<div class="t" style="left:804.5px;top:392.20px;font-size:10px;color:#5f6670;font-weight:normal;transform:scaleX(0.8622);transform-origin:0 50%;">Ses filles</div>
<div class="a" style="left:912.4px;top:390.90px;width:39.6px;height:14.6px;background:#0ec468;border-radius:3px"></div>
<div class="t" style="left:919.8px;top:391.50px;font-size:10.2px;color:#111;font-weight:normal;transform:scaleX(0.8575);transform-origin:0 50%;">100 %</div>
<div class="t" style="left:956.2px;top:391.90px;font-size:9.5px;color:#111;font-weight:normal;transform:scaleX(1.0598);transform-origin:0 50%;-webkit-text-stroke:0.15px #111">(1/1)</div>
<svg style="left:378.5px;top:443.4px;" width="8" height="6" viewBox="0 0 8 6"><path d="M0.7 0.8 L3.6 4.3 L6.5 0.8" fill="none" stroke="#333" stroke-width="1.15"/></svg>
<div class="t" style="left:391.4px;top:438.50px;font-size:12.6px;color:#1b7bb4;font-weight:normal;transform:scaleX(0.9638);transform-origin:0 50%;-webkit-text-stroke:0.3px #1b7bb4">Cas de test vérifiant cette exigence</div>
<svg style="left:964.5px;top:438.0px;" width="13" height="13" viewBox="0 0 13 13"><circle cx="6.5" cy="6.5" r="5.6" fill="none" stroke="#1a7db5" stroke-width="1.2"/><path d="M6.5 3.8 V9.2 M3.8 6.5 H9.2" stroke="#1a7db5" stroke-width="1.4"/></svg>
<svg style="left:986.3px;top:438.0px;" width="13" height="13" viewBox="0 0 13 13"><circle cx="5.5" cy="5.3" r="3.8" fill="none" stroke="#1a7db5" stroke-width="1.5"/><path d="M8.2 8 L11.6 11.4" stroke="#1a7db5" stroke-width="1.8" stroke-linecap="round"/></svg>
<svg style="left:1007.5px;top:438.0px;" width="13" height="13" viewBox="0 0 13 13"><circle cx="6.5" cy="6.5" r="5.6" fill="none" stroke="#55606b" stroke-width="1.2"/><path d="M3.87 6.5 H9.13" stroke="#55606b" stroke-width="1.5"/></svg>
<div class="a" style="left:374px;top:458px;width:651px;height:104.5px;background:#fff;border:1px solid #dae3ec;border-radius:3px"></div>
<div class="t" style="left:400px;top:474.40px;font-size:8.5px;color:#4d5763;font-weight:normal;transform:scaleX(0.8462);transform-origin:0 50%;-webkit-text-stroke:0.1px #4d5763">#</div>
<div class="t" style="left:418.6px;top:474.40px;font-size:8.5px;color:#4d5763;font-weight:normal;transform:scaleX(0.8022);transform-origin:0 50%;-webkit-text-stroke:0.1px #4d5763">PROJET</div>
<svg style="left:449.2px;top:477.70000000000005px;" width="7" height="8" viewBox="0 0 7 8"><path d="M3.5 0.5 V7 M0.8 4.2 L3.5 7 L6.2 4.2" fill="none" stroke="#333" stroke-width="1.1"/></svg>
<div class="t" style="left:578.6px;top:474.40px;font-size:8.5px;color:#4d5763;font-weight:normal;transform:scaleX(0.7897);transform-origin:0 50%;-webkit-text-stroke:0.1px #4d5763">RÉFÉRENCE</div>
<svg style="left:623px;top:477.70000000000005px;" width="7" height="8" viewBox="0 0 7 8"><path d="M3.5 0.5 V7 M0.8 4.2 L3.5 7 L6.2 4.2" fill="none" stroke="#333" stroke-width="1.1"/></svg>
<div class="t" style="left:645.1px;top:474.40px;font-size:8.5px;color:#4d5763;font-weight:normal;transform:scaleX(0.8277);transform-origin:0 50%;-webkit-text-stroke:0.1px #4d5763">CAS DE TEST</div>
<svg style="left:694px;top:477.70000000000005px;" width="7" height="8" viewBox="0 0 7 8"><path d="M3.5 0.5 V7 M0.8 4.2 L3.5 7 L6.2 4.2" fill="none" stroke="#333" stroke-width="1.1"/></svg>
<div class="t" style="left:804.8px;top:474.40px;font-size:8.5px;color:#4d5763;font-weight:normal;transform:scaleX(0.8770);transform-origin:0 50%;-webkit-text-stroke:0.1px #4d5763">JALONS</div>
<div class="t" style="left:926.2px;top:474.40px;font-size:8.5px;color:#4d5763;font-weight:normal;transform:scaleX(0.7898);transform-origin:0 50%;-webkit-text-stroke:0.1px #4d5763">ST.</div>
<div class="t" style="left:952px;top:474.40px;font-size:8.5px;color:#4d5763;font-weight:normal;transform:scaleX(0.9525);transform-origin:0 50%;-webkit-text-stroke:0.1px #4d5763">IMP.</div>
<svg style="left:970.2px;top:477.70000000000005px;" width="7" height="8" viewBox="0 0 7 8"><path d="M3.5 0.5 V7 M0.8 4.2 L3.5 7 L6.2 4.2" fill="none" stroke="#333" stroke-width="1.1"/></svg>
<div class="a" style="left:385px;top:493px;width:629px;height:1px;background:#dfe5ec"></div>
<div class="a" style="left:385px;top:516px;width:629px;height:1px;background:#dfe5ec"></div>
<div class="a" style="left:385px;top:539px;width:629px;height:1px;background:#dfe5ec"></div>
<div class="t" style="left:399.4px;top:499.00px;font-size:10px;color:#1a1a1a;font-weight:normal;transform:scaleX(0.9100);transform-origin:0 50%;">1</div>
<div class="t" style="left:419px;top:499.00px;font-size:10px;color:#1a1a1a;font-weight:normal;transform:scaleX(0.8937);transform-origin:0 50%;">Documentation Squash 1 (FR)</div>
<div class="t" style="left:578.6px;top:499.00px;font-size:10px;color:#1a1a1a;font-weight:normal;transform:scaleX(0.8855);transform-origin:0 50%;">Référence du ...</div>
<div class="t" style="left:645.1px;top:499.00px;font-size:10px;color:#1a1a1a;font-weight:normal;transform:scaleX(0.9286);transform-origin:0 50%;"><span style="text-decoration:underline">Nom du cas de test</span></div>
<div class="t" style="left:809px;top:499.00px;font-size:10px;color:#1a1a1a;font-weight:normal;transform:scaleX(0.9100);transform-origin:0 50%;">-</div>
<svg style="left:925.5px;top:501.0px;" width="11" height="11" viewBox="0 0 11 11"><circle cx="5.2" cy="5.2" r="5" fill="#1cb51c"/></svg>
<svg style="left:958.5px;top:502.9px;" width="10" height="6" viewBox="0 0 10 6"><path d="M1 5 L5 1.4 L9 5" fill="none" stroke="#f7931e" stroke-width="1.7"/></svg>
<svg style="left:991.4px;top:498.7px;" width="13" height="13" viewBox="0 0 13 13"><circle cx="6.5" cy="6.5" r="4.4" fill="none" stroke="#1a7db5" stroke-width="1.2"/><path d="M4.43 6.5 H8.57" stroke="#1a7db5" stroke-width="1.5"/></svg>
<div class="t" style="left:399.4px;top:522.30px;font-size:10px;color:#1a1a1a;font-weight:normal;transform:scaleX(0.9100);transform-origin:0 50%;">2</div>
<div class="t" style="left:419px;top:522.30px;font-size:10px;color:#1a1a1a;font-weight:normal;transform:scaleX(0.8937);transform-origin:0 50%;">Documentation Squash 1 (FR)</div>
<div class="t" style="left:578.6px;top:522.30px;font-size:10px;color:#1a1a1a;font-weight:normal;transform:scaleX(0.8302);transform-origin:0 50%;">CT01</div>
<div class="t" style="left:645.1px;top:522.30px;font-size:10px;color:#1a1a1a;font-weight:normal;transform:scaleX(0.8901);transform-origin:0 50%;"><span style="text-decoration:underline">Cas de test Classique 1</span></div>
<div class="t" style="left:809px;top:522.30px;font-size:10px;color:#1a1a1a;font-weight:normal;transform:scaleX(0.9100);transform-origin:0 50%;">-</div>
<svg style="left:925.5px;top:524.3px;" width="11" height="11" viewBox="0 0 11 11"><circle cx="5.2" cy="5.2" r="5" fill="#13a0e8"/></svg>
<svg style="left:958.5px;top:526.1999999999999px;" width="10" height="6" viewBox="0 0 10 6"><path d="M1 5 L5 1.4 L9 5" fill="none" stroke="#f7931e" stroke-width="1.7"/></svg>
<svg style="left:991.4px;top:522.0px;" width="13" height="13" viewBox="0 0 13 13"><circle cx="6.5" cy="6.5" r="4.4" fill="none" stroke="#1a7db5" stroke-width="1.2"/><path d="M4.43 6.5 H8.57" stroke="#1a7db5" stroke-width="1.5"/></svg>
<svg style="left:378.5px;top:589.4px;" width="8" height="6" viewBox="0 0 8 6"><path d="M0.7 0.8 L3.6 4.3 L6.5 0.8" fill="none" stroke="#333" stroke-width="1.15"/></svg>
<div class="t" style="left:391.4px;top:584.50px;font-size:12.6px;color:#1b7bb4;font-weight:normal;transform:scaleX(0.9218);transform-origin:0 50%;-webkit-text-stroke:0.3px #1b7bb4">Exigences liées</div>
<svg style="left:986.3px;top:584.2px;" width="13" height="13" viewBox="0 0 13 13"><circle cx="6.5" cy="6.5" r="5.6" fill="none" stroke="#1a7db5" stroke-width="1.2"/><path d="M6.5 3.8 V9.2 M3.8 6.5 H9.2" stroke="#1a7db5" stroke-width="1.4"/></svg>
<svg style="left:1007.5px;top:584.2px;" width="13" height="13" viewBox="0 0 13 13"><circle cx="6.5" cy="6.5" r="5.6" fill="none" stroke="#55606b" stroke-width="1.2"/><path d="M3.87 6.5 H9.13" stroke="#55606b" stroke-width="1.5"/></svg>
<div class="a" style="left:374px;top:604px;width:651px;height:80.5px;background:#fff;border:1px solid #dae3ec;border-radius:3px"></div>
<div class="t" style="left:400px;top:619.40px;font-size:8.5px;color:#4d5763;font-weight:normal;transform:scaleX(0.8462);transform-origin:0 50%;-webkit-text-stroke:0.1px #4d5763">#</div>
<div class="t" style="left:418.5px;top:619.40px;font-size:8.5px;color:#4d5763;font-weight:normal;transform:scaleX(0.8082);transform-origin:0 50%;-webkit-text-stroke:0.1px #4d5763">PROJET</div>
<div class="t" style="left:530.8px;top:619.40px;font-size:8.5px;color:#4d5763;font-weight:normal;transform:scaleX(0.7859);transform-origin:0 50%;-webkit-text-stroke:0.1px #4d5763">RÉFÉRENCE</div>
<div class="t" style="left:597.5px;top:619.40px;font-size:8.5px;color:#4d5763;font-weight:normal;transform:scaleX(0.8150);transform-origin:0 50%;-webkit-text-stroke:0.1px #4d5763">EXIGENCE</div>
<div class="t" style="left:709px;top:619.40px;font-size:8.5px;color:#4d5763;font-weight:normal;transform:scaleX(0.8649);transform-origin:0 50%;-webkit-text-stroke:0.1px #4d5763">JALONS</div>
<div class="t" style="left:813.1px;top:619.40px;font-size:8.5px;color:#4d5763;font-weight:normal;transform:scaleX(0.8792);transform-origin:0 50%;-webkit-text-stroke:0.1px #4d5763">N° VERSION</div>
<div class="t" style="left:879.7px;top:619.40px;font-size:8.5px;color:#4d5763;font-weight:normal;transform:scaleX(0.8165);transform-origin:0 50%;-webkit-text-stroke:0.1px #4d5763">RÔLE</div>
<svg style="left:902px;top:622.9px;" width="7" height="8" viewBox="0 0 7 8"><path d="M3.5 7.5 V1 M0.8 3.8 L3.5 1 L6.2 3.8" fill="none" stroke="#333" stroke-width="1.1"/></svg>
<div class="a" style="left:385px;top:638px;width:629px;height:1px;background:#dfe5ec"></div>
<div class="a" style="left:385px;top:662px;width:629px;height:1px;background:#dfe5ec"></div>
<div class="t" style="left:399.4px;top:644.90px;font-size:10px;color:#1a1a1a;font-weight:normal;transform:scaleX(0.9100);transform-origin:0 50%;">1</div>
<div class="t" style="left:418.5px;top:644.90px;font-size:10px;color:#1a1a1a;font-weight:normal;transform:scaleX(0.9103);transform-origin:0 50%;">Documentation Squash 1...</div>
<div class="t" style="left:530.8px;top:644.90px;font-size:10px;color:#1a1a1a;font-weight:normal;transform:scaleX(0.8285);transform-origin:0 50%;">Réf 3</div>
<div class="t" style="left:597.5px;top:644.90px;font-size:10px;color:#1a1a1a;font-weight:normal;transform:scaleX(0.8732);transform-origin:0 50%;"><span style="text-decoration:underline">Exigence 3</span></div>
<div class="t" style="left:712.5px;top:644.90px;font-size:10px;color:#1a1a1a;font-weight:normal;transform:scaleX(0.9100);transform-origin:0 50%;">-</div>
<div class="t" style="left:813.5px;top:644.90px;font-size:10px;color:#1a1a1a;font-weight:normal;transform:scaleX(0.9100);transform-origin:0 50%;">1</div>
<div class="t" style="left:883px;top:644.90px;font-size:10px;color:#1a1a1a;font-weight:normal;transform:scaleX(0.9173);transform-origin:0 50%;">Relatif</div>
<svg style="left:956px;top:644px;" width="14" height="13" viewBox="0 0 14 13"><path d="M2.3 11.1 L11.8 2.5" stroke="#1a7db5" stroke-width="2.7"/><path d="M3 10.4 L11.2 3.1" stroke="#9ccbe6" stroke-width="0.7" stroke-dasharray="1 1"/></svg>
<svg style="left:990.5px;top:644.4px;" width="13" height="13" viewBox="0 0 13 13"><circle cx="6.5" cy="6.5" r="4.4" fill="none" stroke="#1a7db5" stroke-width="1.2"/><path d="M4.43 6.5 H8.57" stroke="#1a7db5" stroke-width="1.5"/></svg>
</body></html>
